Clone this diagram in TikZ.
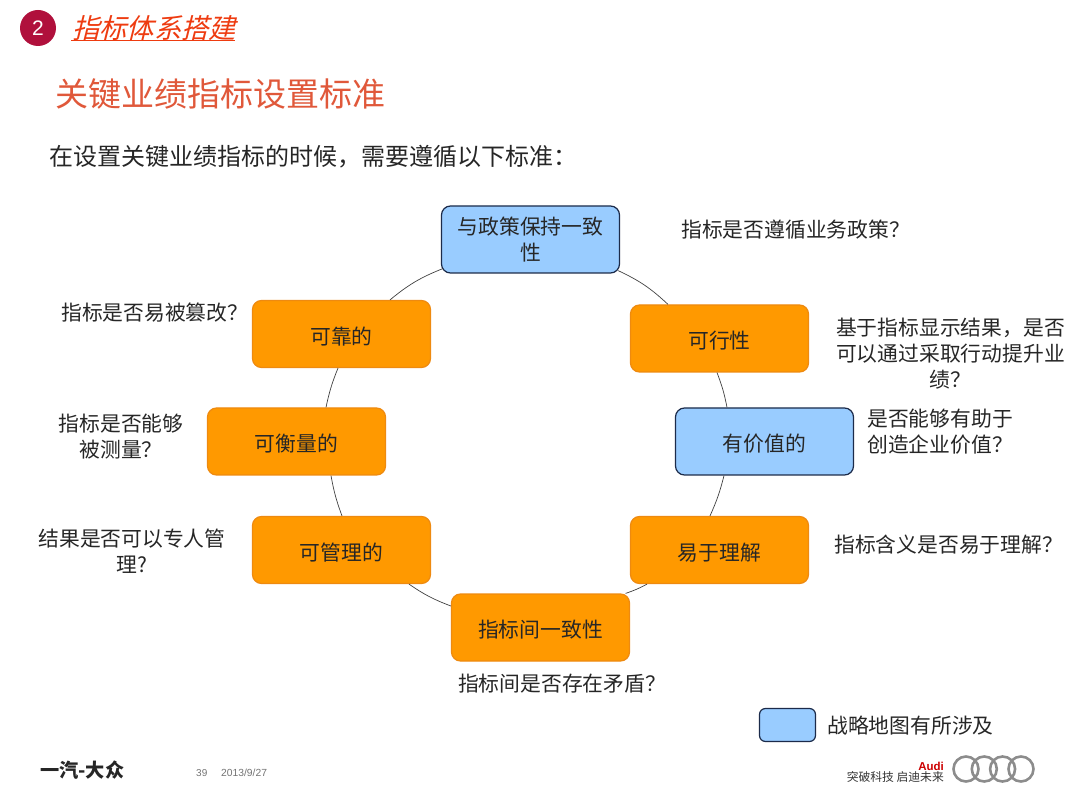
\documentclass[tikz,border=0pt]{standalone}
\usepackage{fontspec}
\setmainfont{Noto Sans CJK SC}
\newfontfamily\slantcjk[FakeSlant=0.25]{Noto Sans CJK SC}
\newfontfamily\latinsans{Liberation Sans}
\definecolor{boxblue}{HTML}{99CCFF}
\definecolor{boxorange}{HTML}{FF9900}
\definecolor{edgeorange}{HTML}{EE8A10}
\definecolor{edgeblue}{HTML}{1C2B4A}
\definecolor{titlered}{HTML}{E0583A}
\definecolor{headred}{HTML}{EE3B10}
\definecolor{badge}{HTML}{B0103C}
\tikzset{
  critbox/.style={draw,line width=1.2pt,rounded corners=9pt,minimum width=178pt,minimum height=67pt,inner sep=2pt,align=center,font=\fontsize{20.8}{26}\selectfont,text=black!85},
  oneline/.style={text height=20.5pt,text depth=0pt},
  orangebox/.style={critbox,oneline,fill=boxorange,draw=edgeorange},
  bluebox/.style={critbox,fill=boxblue,draw=edgeblue},
  note/.style={align=center,font=\fontsize{20.8}{26}\selectfont,text=black!85,inner sep=0pt},
  ringline/.style={draw=black!75,line width=0.7pt},
  audiring/.style={draw=black!45,line width=2.6pt},
}
\begin{document}
\begin{tikzpicture}[x=1pt,y=-1pt]
\useasboundingbox (0,0) rectangle (1080,810);
% header
\node[circle,fill=badge,minimum size=36pt,inner sep=0pt,text=white,font=\latinsans\fontsize{21}{21}\selectfont] (badgeN) at (38,28) {2};
\node[anchor=west,inner sep=0pt,text=headred,font=\slantcjk\fontsize{27.3}{30}\selectfont] (head) at (72,28) {指标体系搭建};
\coordinate (ulA) at (71,40.5);
\coordinate (ulB) at (235,40.5);
\draw[headred,line width=1pt] (ulA) -- (ulB);
\node[anchor=west,inner sep=0pt,text=titlered,font=\fontsize{33}{36}\selectfont] (title) at (55,94) {关键业绩指标设置标准};
\node[anchor=west,inner sep=0pt,text=black!85,font=\fontsize{24}{28}\selectfont] (intro) at (49,157) {在设置关键业绩指标的时候，需要遵循以下标准：};
% boxes
\node[bluebox] (align) at (530.5,239.5) {与政策保持一致\\性};
\node[orangebox] (feas) at (719.5,338.5) {可行性};
\node[bluebox,oneline] (value) at (764.5,441.5) {有价值的};
\node[orangebox] (easy) at (719.5,550) {易于理解};
\node[orangebox] (cons) at (540.5,627.5) {指标间一致性};
\node[orangebox] (manage) at (341.5,550) {可管理的};
\node[orangebox] (measure) at (296.5,441.5) {可衡量的};
\node[orangebox] (reli) at (341.5,334) {可靠的};
% ring
\draw[ringline] ([shift={(-2,-3)}]align.south east) to[bend left=9] ([xshift=-51.5pt]feas.north);
\draw[ringline] ([xshift=-2.5pt]feas.south) to[bend left=5] ([xshift=-37.5pt]value.north);
\draw[ringline] ([xshift=-40.5pt]value.south) to[bend left=5] ([xshift=-9.5pt]easy.north);
\draw[ringline] ([xshift=-72.5pt]easy.south) to[bend left=5] ([xshift=85pt]cons.north);
\draw[ringline] ([yshift=21.5pt]cons.west) to[bend left=7] ([xshift=67.5pt]manage.south);
\draw[ringline] ([xshift=0.5pt]manage.north) to[bend left=5] ([xshift=34.5pt]measure.south);
\draw[ringline] ([xshift=29.5pt]measure.north) to[bend left=5] ([xshift=-3.5pt]reli.south);
\draw[ringline] ([xshift=48.5pt]reli.north) to[bend left=9] ([shift={(2,-5)}]align.south west);
% notes
\node[note,anchor=west] (n1) at (681,230) {指标是否遵循业务政策？};
\node[note] (n2) at (950.5,354) {基于指标显示结果，是否\\可以通过采取行动提升业\\绩？};
\node[note,anchor=west,align=left] (n3) at (867,432) {是否能够有助于\\创造企业价值？};
\node[note,anchor=west] (n4) at (834,545) {指标含义是否易于理解？};
\node[note] (n5) at (562,684) {指标间是否存在矛盾？};
\node[note] (n6) at (132,551) {结果是否可以专人管\\理?};
\node[note] (n7) at (121,436.5) {指标是否能够\\被测量？};
\node[note,anchor=west] (n8) at (61,312.5) {指标是否易被篡改？};
% legend
\node[bluebox,minimum width=56pt,minimum height=33pt,rounded corners=6pt] (legend) at (787.5,725) {};
\node[anchor=west,inner sep=0pt,text=black!85,font=\fontsize{20.8}{24}\selectfont] (legendT) at (827,726) {战略地图有所涉及};
% footer
\node[anchor=west,inner sep=0pt,font=\bfseries\fontsize{19.2}{22}\selectfont,text=black!85] (vw) at (40,770) {一汽-大众};
\node[anchor=west,inner sep=0pt,font=\latinsans\fontsize{10}{11}\selectfont,text=black!55] (page) at (196,773) {39};
\node[anchor=west,inner sep=0pt,font=\latinsans\fontsize{10.3}{11}\selectfont,text=black!55] (date) at (221,773) {2013/9/27};
\node[anchor=east,inner sep=0pt,font=\latinsans\bfseries\fontsize{11.5}{12}\selectfont,text=red!80!black] (audi) at (944,766) {Audi};
\node[anchor=east,inner sep=0pt,font=\fontsize{11.8}{12}\selectfont,text=black!80] (slogan) at (944,777) {突破科技 启迪未来};
\foreach \cx in {966,984.3,1002.6,1021}{\node[circle,audiring,minimum size=25pt,inner sep=0pt] (ring\cx) at (\cx,769) {};}
\end{tikzpicture}
\end{document}
